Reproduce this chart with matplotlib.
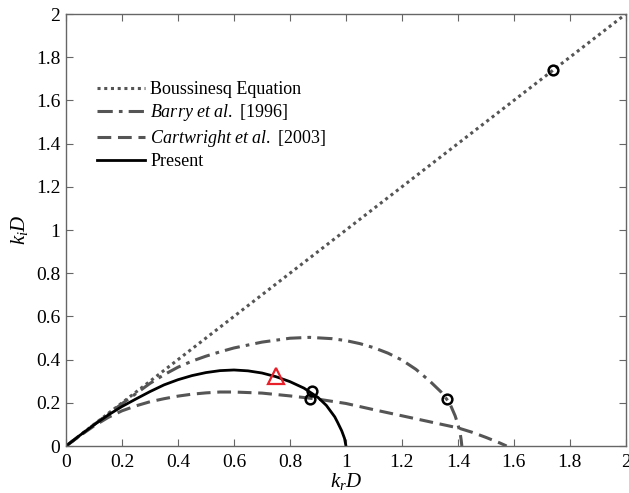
import matplotlib
matplotlib.use("Agg")
import matplotlib.pyplot as plt

plt.rcParams['font.family'] = ['Liberation Serif', 'DejaVu Serif']
plt.rcParams['mathtext.fontset'] = 'custom'
plt.rcParams['mathtext.rm'] = 'Liberation Serif'
plt.rcParams['mathtext.it'] = 'Liberation Serif:italic'

# Boussinesq equation: k_i D = k_r D
bous_kr = [0.0, 2.0]
bous_ki = [0.0, 2.0]

# Barry et al. [1996]
barry_kr = [0.0, 0.1, 0.2, 0.3, 0.35, 0.4, 0.45, 0.5, 0.55, 0.6, 0.7, 0.8, 0.87,
            0.95, 1.0, 1.05, 1.1, 1.15, 1.2, 1.25, 1.3, 1.34, 1.37, 1.39, 1.40,
            1.408, 1.412, 1.414]
barry_ki = [0.0, 0.099, 0.196, 0.29, 0.33, 0.365, 0.393, 0.416, 0.436, 0.454,
            0.481, 0.499, 0.503, 0.497, 0.488, 0.474, 0.455, 0.43, 0.398, 0.355,
            0.30, 0.25, 0.20, 0.14, 0.10, 0.06, 0.025, 0.0]

# Cartwright et al. [2003]
cart_kr = [0.0, 0.05, 0.1, 0.15, 0.2, 0.25, 0.3, 0.35, 0.4, 0.45, 0.5, 0.55, 0.6,
           0.7, 0.8, 0.9, 1.0, 1.1, 1.2, 1.3, 1.4, 1.45, 1.5, 1.55, 1.574]
cart_ki = [0.0, 0.048, 0.093, 0.132, 0.163, 0.186, 0.205, 0.219, 0.231, 0.240,
           0.246, 0.250, 0.250, 0.245, 0.232, 0.217, 0.197, 0.168, 0.140, 0.112,
           0.084, 0.064, 0.040, 0.014, 0.0]

# Present model
pres_kr = [0.0, 0.05, 0.1, 0.15, 0.2, 0.25, 0.3, 0.35, 0.4, 0.45, 0.5, 0.55, 0.6,
           0.65, 0.7, 0.75, 0.8, 0.85, 0.9, 0.93, 0.96, 0.97, 0.985, 0.995, 1.0]
pres_ki = [0.0, 0.05, 0.098, 0.143, 0.183, 0.218, 0.252, 0.283, 0.307, 0.326,
           0.34, 0.349, 0.352, 0.348, 0.338, 0.321, 0.298, 0.268, 0.225, 0.188,
           0.135, 0.11, 0.07, 0.035, 0.0]

# Highlighted points
circle_kr = [1.74, 1.362, 0.877, 0.870]
circle_ki = [1.74, 0.216, 0.255, 0.218]
tri_kr = [0.75]
tri_ki = [0.325]

ticks = [0, 0.2, 0.4, 0.6, 0.8, 1, 1.2, 1.4, 1.6, 1.8, 2]
tick_labels = ['0', '0.2', '0.4', '0.6', '0.8', '1', '1.2', '1.4', '1.6',
               '1.8', '2']

fig = plt.figure(figsize=(6.29, 4.93), dpi=100)
ax = fig.add_axes([0.105, 0.0953, 0.89, 0.8763])

grey = '#555555'
ax.plot(bous_kr, bous_ki, linestyle=(0, (1, 1.2)), color=grey, lw=2.2,
        label='Boussinesq Equation')
ax.plot(barry_kr, barry_ki, linestyle=(0, (5, 2, 1.2, 2)), color=grey, lw=2.2,
        label=r'$\it{Barry\ et\ al.}$ [1996]')
ax.plot(cart_kr, cart_ki, linestyle=(0, (4.5, 2.2)), color=grey, lw=2.2,
        label=r'$\it{Cartwright\ et\ al.}$ [2003]')
ax.plot(pres_kr, pres_ki, color='black', lw=2.0, label='Present')

ax.plot(circle_kr, circle_ki, 'o', ms=7, mfc='none', mec='black', mew=1.8,
        zorder=5)
ax.plot(tri_kr, tri_ki, '^', ms=11, mfc='none', mec='#e8202a', mew=1.6,
        zorder=6)

ax.set_xlim(0, 2)
ax.set_ylim(0, 2)
ax.set_xticks(ticks)
ax.set_xticklabels(tick_labels, fontfamily='Liberation Serif')
ax.set_yticks(ticks)
ax.set_yticklabels(tick_labels, fontfamily='Liberation Serif')
ax.tick_params(direction='in', top=True, right=True, length=5, width=0.8,
               color='#666666', labelsize=14)
ax.tick_params(axis='x', pad=6)
ax.tick_params(axis='y', pad=4)
for s in ax.spines.values():
    s.set_color('#666666')
    s.set_linewidth(1.0)

ax.set_xlabel(r'$k_r D$', fontsize=15, labelpad=0)
ax.set_ylabel(r'$k_i D$', fontsize=15, labelpad=4)

leg = ax.legend(loc='upper left', bbox_to_anchor=(0.042, 0.862), frameon=False,
                fontsize=13, handlelength=2.65, handletextpad=0.3,
                labelspacing=0.25, borderaxespad=0)

fig.savefig('out.png', dpi=100)
